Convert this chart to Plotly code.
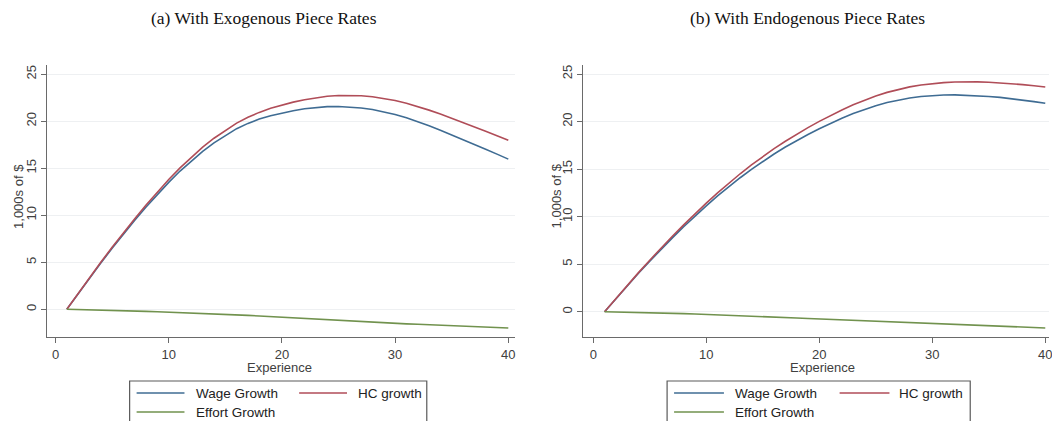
import plotly.graph_objects as go

# ---------------- data ----------------
experience = list(range(1, 41))

# (a) exogenous piece rates, 1,000s of $
wage_a = [0, 1.68, 3.32, 4.92, 6.48, 8.00, 9.46, 10.87, 12.22, 13.50,
          14.70, 15.80, 16.80, 17.70, 18.50, 19.21, 19.77, 20.23, 20.59, 20.87,
          21.12, 21.32, 21.46, 21.55, 21.57, 21.53, 21.41, 21.24, 21.00, 20.71,
          20.36, 19.97, 19.52, 19.05, 18.56, 18.06, 17.55, 17.03, 16.50, 15.97]
hc_a = [0, 1.70, 3.37, 5.00, 6.59, 8.14, 9.64, 11.09, 12.48, 13.80,
        15.04, 16.19, 17.24, 18.19, 19.04, 19.80, 20.42, 20.94, 21.37, 21.72,
        22.03, 22.29, 22.50, 22.65, 22.74, 22.76, 22.71, 22.60, 22.43, 22.20,
        21.91, 21.57, 21.18, 20.76, 20.32, 19.87, 19.41, 18.94, 18.46, 17.97]
effort_a = [0, -0.02, -0.05, -0.08, -0.11, -0.14, -0.18, -0.22, -0.26, -0.30,
            -0.34, -0.39, -0.44, -0.49, -0.54, -0.59, -0.65, -0.71, -0.78, -0.85,
            -0.91, -0.97, -1.04, -1.10, -1.17, -1.23, -1.30, -1.36, -1.43, -1.49,
            -1.55, -1.60, -1.66, -1.71, -1.76, -1.81, -1.86, -1.91, -1.96, -2.00]

# (b) endogenous piece rates, 1,000s of $
wage_b = [0, 1.38, 2.72, 4.04, 5.32, 6.57, 7.77, 8.94, 10.06, 11.14,
          12.18, 13.16, 14.09, 14.98, 15.81, 16.59, 17.32, 18.00, 18.64, 19.25,
          19.82, 20.35, 20.84, 21.28, 21.67, 22.00, 22.27, 22.48, 22.64, 22.74,
          22.79, 22.81, 22.78, 22.73, 22.64, 22.54, 22.41, 22.27, 22.10, 21.92]
hc_b = [0, 1.40, 2.77, 4.11, 5.42, 6.70, 7.94, 9.14, 10.30, 11.42,
        12.50, 13.53, 14.51, 15.44, 16.32, 17.15, 17.93, 18.66, 19.36, 20.02,
        20.64, 21.22, 21.76, 22.25, 22.69, 23.07, 23.39, 23.65, 23.85, 24.00,
        24.10, 24.16, 24.18, 24.17, 24.13, 24.07, 23.99, 23.89, 23.77, 23.63]
effort_b = [0, -0.02, -0.05, -0.07, -0.10, -0.13, -0.17, -0.20, -0.24, -0.28,
            -0.32, -0.37, -0.42, -0.46, -0.51, -0.56, -0.61, -0.66, -0.72, -0.77,
            -0.82, -0.87, -0.92, -0.97, -1.02, -1.07, -1.12, -1.17, -1.21, -1.26,
            -1.31, -1.35, -1.40, -1.44, -1.49, -1.53, -1.58, -1.62, -1.67, -1.71]

series_names = ["Wage Growth", "HC growth", "Effort Growth"]
x_ticks = [0, 10, 20, 30, 40]
y_ticks = [0, 5, 10, 15, 20, 25]
titles = ["(a) With Exogenous Piece Rates", "(b) With Endogenous Piece Rates"]

# ---------------- style ----------------
W, H = 1052, 421
colors = ["#3f6c93", "#b04d58", "#71924e"]
axis_col = "#6a6a6a"
grid_col = "#eef0f2"
sans = "Liberation Sans, Arial, sans-serif"
serif = "Liberation Serif, Times New Roman, serif"


def px_x(p):
    return p / W


def px_y(p):
    return 1 - p / H


fig = go.Figure()

panels = [
    dict(data=[wage_a, hc_a, effort_a], xa="x", ya="y"),
    dict(data=[wage_b, hc_b, effort_b], xa="x2", ya="y2"),
]
for pan in panels:
    for name, vals, col in zip(series_names, pan["data"], colors):
        fig.add_trace(go.Scatter(
            x=experience, y=vals, name=name, mode="lines",
            line=dict(color=col, width=1.6),
            xaxis=pan["xa"], yaxis=pan["ya"], showlegend=False,
            hoverinfo="x+y+name",
        ))

common_x = dict(
    showline=True, linecolor=axis_col, linewidth=1.3, mirror=False,
    ticks="outside", ticklen=5, tickcolor=axis_col, tickwidth=1.2,
    tickvals=x_ticks, showgrid=False, zeroline=False,
    ticklabeloverflow="allow",
    tickfont=dict(family=sans, size=13, color="#404040"),
)
common_y = dict(
    showline=True, linecolor=axis_col, linewidth=1.3,
    ticks="outside", ticklen=5, tickcolor=axis_col, tickwidth=1.2,
    tickvals=y_ticks, tickangle=-90, showgrid=True, gridcolor=grid_col,
    gridwidth=1, zeroline=False,
    tickfont=dict(family=sans, size=13, color="#404040"),
)

fig.update_layout(
    width=W, height=H,
    margin=dict(l=0, r=0, t=0, b=0),
    paper_bgcolor="white", plot_bgcolor="white",
    showlegend=False,
    xaxis=dict(common_x, domain=[px_x(47.5), px_x(516)], range=[-0.72, 40.55], anchor="y"),
    yaxis=dict(common_y, domain=[px_y(337), px_y(65)], range=[-2.95, 25.98], anchor="x"),
    xaxis2=dict(common_x, domain=[px_x(585), 1.0], range=[-0.88, 40.33], anchor="y2"),
    yaxis2=dict(common_y, domain=[px_y(337), px_y(65)], range=[-2.66, 25.95], anchor="x2"),
)

annotations = []
shapes = []
centers = [265, 810]
ytitle_x = [18, 558]
legend_boxes = [(130, 428), (669, 973)]
legend_cols = [(137, 185, 195, 300, 348, 357), (676, 726, 735, 842, 892, 900)]

for i in range(2):
    annotations.append(dict(
        text=titles[i], x=px_x(centers[i]), y=px_y(18), xref="paper", yref="paper",
        xanchor="center", yanchor="middle", showarrow=False,
        font=dict(family=serif, size=17.5, color="#111111")))
    annotations.append(dict(
        text="Experience", x=px_x(centers[i] + 15), y=px_y(367), xref="paper", yref="paper",
        xanchor="center", yanchor="middle", showarrow=False,
        font=dict(family=sans, size=13, color="#404040")))
    annotations.append(dict(
        text="1,000s of $", x=px_x(ytitle_x[i]), y=px_y(196), xref="paper", yref="paper",
        xanchor="center", yanchor="middle", showarrow=False, textangle=-90,
        font=dict(family=sans, size=13, color="#404040")))
    # legend box (extends beyond bottom edge as in reference)
    bx0, bx1 = legend_boxes[i]
    shapes.append(dict(type="rect", xref="paper", yref="paper",
                       x0=px_x(bx0), x1=px_x(bx1), y0=px_y(440), y1=px_y(381),
                       line=dict(color="#5a5a5a", width=1.2), fillcolor="white", layer="above"))
    l0, l1, t0, r0, r1, rt = legend_cols[i]
    entries = [(l0, l1, t0, 393, 0), (r0, r1, rt, 393, 1), (l0, l1, t0, 412, 2)]
    for a, b, tx, yy, k in entries:
        shapes.append(dict(type="line", xref="paper", yref="paper",
                           x0=px_x(a), x1=px_x(b), y0=px_y(yy), y1=px_y(yy),
                           line=dict(color=colors[k], width=1.6), layer="above"))
        annotations.append(dict(
            text=series_names[k], x=px_x(tx), y=px_y(yy), xref="paper", yref="paper",
            xanchor="left", yanchor="middle", showarrow=False,
            font=dict(family=sans, size=13.5, color="#222222")))

fig.update_layout(annotations=annotations, shapes=shapes)

fig.write_html(
    "out.html",
    config={"displayModeBar": False},
    post_script="document.body.style.margin='0';document.body.style.padding='0';",
)
